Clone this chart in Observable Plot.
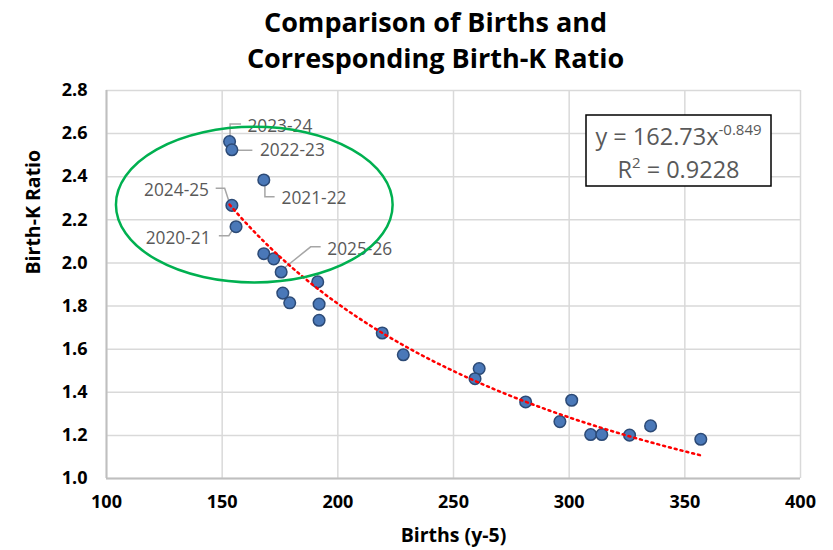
<!DOCTYPE html>
<html><head><meta charset="utf-8">
<script src="https://cdn.jsdelivr.net/npm/d3@7"></script>
<script src="https://cdn.jsdelivr.net/npm/@observablehq/plot@0.6"></script>
<style>body{margin:0;background:#fff;} #chart{width:833px;height:550px;}</style>
</head><body><div id="chart"></div>
<script>
// ---- data ----
const births = [153.2,154.2,168.0,154.2,156.0,168.0,172.3,175.5,191.3,176.2,179.2,191.9,191.9,219.2,228.3,261.1,259.3,281.2,301.1,296.0,309.3,314.1,326.1,335.2,356.9];
const ratios = [2.563,2.525,2.385,2.267,2.168,2.043,2.019,1.958,1.912,1.860,1.815,1.809,1.734,1.675,1.574,1.510,1.463,1.355,1.363,1.264,1.204,1.204,1.201,1.244,1.182];
const seasons = ["2023-24","2022-23","2021-22","2024-25","2020-21","","","2025-26","","","","","","","","","","","","","","","","",""];
const xTicks = [100,150,200,250,300,350,400];
const yTicks = [1.0,1.2,1.4,1.6,1.8,2.0,2.2,2.4,2.6,2.8];
const trendCoef = 162.73;
const trendExp = -0.849;
const rSquared = 0.9228;
const titleLines = ["Comparison of Births and","Corresponding Birth-K Ratio"];
const xTitle = "Births (y-5)";
const yTitle = "Birth-K Ratio";

const points = births.map((b,i)=>({births:b, ratio:ratios[i], season:seasons[i]}));
const [xmin,xmax] = d3.extent(births);
const trend = d3.range(xmin, xmax+0.001, (xmax-xmin)/200).map(x=>({x, y: trendCoef*Math.pow(x,trendExp)}));

// ---- annotation layout (pixel offsets from each labelled point) ----
const labelLayout = {
  "2023-24": {t:[18.4,-14.7], a:"start", p:[[1,-5],[1,-17],[12,-17]]},
  "2022-23": {t:[28.6,1],     a:"start", p:[[4,1],[21,1]]},
  "2021-22": {t:[18.3,18.7],  a:"start", p:[[1.6,5],[1.6,17.4],[11.3,17.4]]},
  "2024-25": {t:[-22.4,-15],  a:"end",   p:[[-15.7,-16.7],[-6.7,-16.7],[-2.7,-4.3]]},
  "2020-21": {t:[-25,11.7],   a:"end",   p:[[-16.7,9.4],[-6.7,9.4],[-3,3.7]]},
  "2025-26": {t:[46.7,-23],   a:"start", p:[[3,-3],[30,-24.7],[40,-24.7]]}
};
const ellipseSpec = {cx:164.1, cy:2.268, rx:59.8, ry:0.361};
const font = "'Open Sans', sans-serif";

function labelsMark(index, scales) {
  const g = d3.create("svg:g");
  for (const d of points) {
    if (!d.season) continue;
    const L = labelLayout[d.season];
    const px = scales.x(d.births), py = scales.y(d.ratio);
    g.append("polyline")
      .attr("points", L.p.map(([dx,dy])=>`${px+dx},${py+dy}`).join(" "))
      .attr("fill","none").attr("stroke","#a6a6a6").attr("stroke-width",1.5);
    g.append("text")
      .attr("x", px+L.t[0]).attr("y", py+L.t[1]).attr("dy","0.35em")
      .attr("text-anchor", L.a).attr("fill","#595959")
      .attr("font-size",17.3).attr("font-family",font).text(d.season);
  }
  return g.node();
}
function ellipseMark(index, scales) {
  const cx = scales.x(ellipseSpec.cx), cy = scales.y(ellipseSpec.cy);
  const rx = scales.x(ellipseSpec.cx+ellipseSpec.rx)-cx;
  const ry = cy - scales.y(ellipseSpec.cy+ellipseSpec.ry);
  const g = d3.create("svg:g");
  g.append("ellipse").attr("cx",cx).attr("cy",cy).attr("rx",rx).attr("ry",ry)
    .attr("fill","none").attr("stroke","#00b050").attr("stroke-width",2.5);
  return g.node();
}
function equationMark() {
  const g = d3.create("svg:g").attr("font-family",font).attr("fill","#595959");
  const x0 = 586, y0 = 115, w = 185, h = 71;
  g.append("rect").attr("x",x0).attr("y",y0).attr("width",w).attr("height",h)
    .attr("fill","white").attr("stroke","black").attr("stroke-width",1.5);
  const t1 = g.append("text").attr("x",x0+w/2).attr("y",145).attr("text-anchor","middle").attr("font-size",23.5);
  t1.append("tspan").text(`y = ${trendCoef}x`);
  t1.append("tspan").attr("font-size",15).attr("dy",-10).text(String(trendExp));
  const t2 = g.append("text").attr("x",x0+w/2).attr("y",178).attr("text-anchor","middle").attr("font-size",23.5);
  t2.append("tspan").text("R");
  t2.append("tspan").attr("font-size",15).attr("dy",-10).text("2");
  t2.append("tspan").attr("dy",10).text(` = ${rSquared}`);
  return g.node();
}

const chart = Plot.plot({
  width: 833, height: 550,
  marginLeft: 106, marginRight: 33, marginTop: 90, marginBottom: 72,
  style: {fontFamily: font, background: "white"},
  x: {domain: [100,400], axis: null},
  y: {domain: [1.0,2.8], axis: null},
  marks: [
    Plot.gridX(xTicks, {stroke:"#d9d9d9", strokeOpacity:1, strokeWidth:1.5}),
    Plot.gridY(yTicks, {stroke:"#d9d9d9", strokeOpacity:1, strokeWidth:1.5}),
    Plot.ruleX([100], {stroke:"#bfbfbf", strokeWidth:2}),
    Plot.ruleY([1.0], {stroke:"#bfbfbf", strokeWidth:2}),
    Plot.axisX(xTicks, {tickSize:0, tickPadding:17, fontSize:18, fontWeight:"bold", fill:"#000", label:null}),
    Plot.axisY(yTicks, {tickSize:0, tickPadding:19, fontSize:18, fontWeight:"bold", fill:"#000", label:null, tickFormat: d3.format(".1f")}),
    Plot.text([xTitle], {frameAnchor:"bottom", dy:63, fontSize:19.5, fontWeight:"bold", fill:"#000"}),
    Plot.text([yTitle], {frameAnchor:"left", rotate:-90, dx:-73, dy:-10, fontSize:19.5, fontWeight:"bold", fill:"#000"}),
    Plot.text([titleLines[0]], {frameAnchor:"top", dx:-18, dy:-78, fontSize:27, fontWeight:"bold", fill:"#000"}),
    Plot.text([titleLines[1]], {frameAnchor:"top", dx:-18, dy:-42, fontSize:27, fontWeight:"bold", fill:"#000"}),
    labelsMark,
    Plot.dot(points, {x:"births", y:"ratio", r:5.8, fill:"#4a78b8", stroke:"#2c4a76", strokeWidth:1.5}),
    Plot.line(trend, {x:"x", y:"y", stroke:"red", strokeWidth:2.5, strokeDasharray:"2 4"}),
    ellipseMark,
    equationMark
  ]
});
document.getElementById("chart").appendChild(chart);
</script>
</body></html>
